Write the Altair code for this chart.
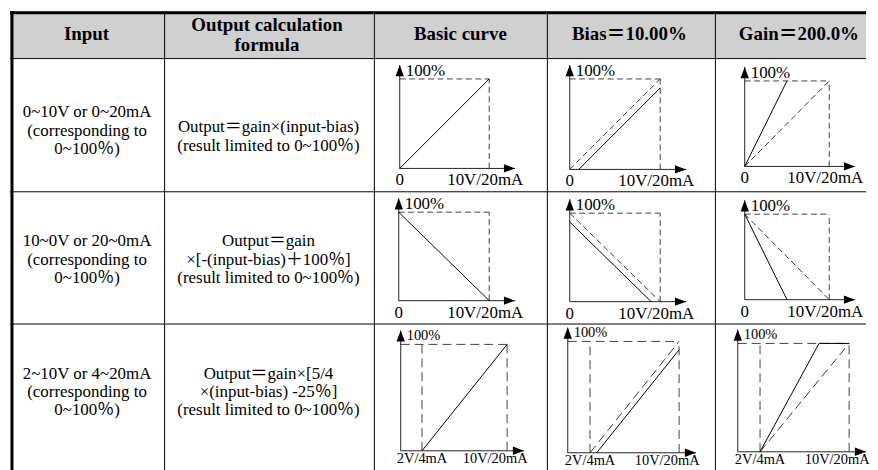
import altair as alt
import pandas as pd

# ---------------- table text ----------------
headers = ["Input", "Output calculation\nformula", "Basic curve", "Bias＝10.00%", "Gain＝200.0%"]
inputs = [
    "0~10V or 0~20mA\n(corresponding to\n0~100％)",
    "10~0V or 20~0mA\n(corresponding to\n0~100％)",
    "2~10V or 4~20mA\n(corresponding to\n0~100％)",
]
formulas = [
    "Output＝gain×(input-bias)\n(result limited to 0~100％)",
    "Output＝gain\n×[-(input-bias)＋100％]\n(result limited to 0~100％)",
    "Output＝gain×[5/4\n×(input-bias) -25％]\n(result limited to 0~100％)",
]

# ---------------- curve data (input in V, output in %) ----------------
basic_x = [[0, 10], [0, 10], [2, 10]]
basic_y = [[0, 100], [100, 0], [0, 100]]
bias_x = [[1, 10], [0, 9], [2.6, 10]]
bias_y = [[0, 90], [90, 0], [0, 92.5]]
gain_x = [[0, 5], [0, 5], [2, 7.3, 10]]
gain_y = [[0, 100], [100, 0], [0, 100, 100]]
zero_v = [0, 0, 2]
start_labels = ["0", "0", "2V/4mA"]
end_label = "10V/20mA"
top_label = "100%"
full_v = 10
full_pct = 100

# ---------------- layout ----------------
FONT = "'Liberation Serif', 'Noto Sans CJK SC', serif"
col_w = [155, 211, 174, 169, 152]
row_h = [47, 134, 133, 150]
# pixel frame of each small plot inside its cell: (x at 0V, x at 10V, y at 0%, y at 100%)
frames = [
    [(26, 116, 111, 21), (23, 114, 112, 21), (30, 115, 109, 23)],
    [(25, 116, 110, 21), (23, 114, 111, 22), (30, 115, 109, 23)],
    [(27, 134, 128, 21), (21, 133, 130, 18), (23, 135, 129, 20)],
]
header_cx = [77, 103.5, 87, 83, 84.5]
header_cy = [22.5, 13.5, 22.5, 22.5, 22.5]
text_cy_input = [54.5, 50.5, 50.5]
text_cy_formula = [69.5, 50.5, 50.5]
one = pd.DataFrame({"k": [0]})


def borders(w, h, r, c):
    out = []
    if c == 0:
        out.append(alt.Chart(one).mark_rule(color="black", strokeWidth=3).encode(
            x=alt.value(2), y=alt.value(0), y2=alt.value(h)))
    else:
        out.append(alt.Chart(one).mark_rule(color="black", strokeWidth=1).encode(
            x=alt.value(0.5), y=alt.value(0), y2=alt.value(h)))
    if r == 0:
        out.append(alt.Chart(one).mark_rule(color="black", strokeWidth=3).encode(
            y=alt.value(1.5), x=alt.value(0), x2=alt.value(w)))
    else:
        out.append(alt.Chart(one).mark_rule(color="black", strokeWidth=1).encode(
            y=alt.value(0.5), x=alt.value(0), x2=alt.value(w)))
    return out


def text_cell(txt, r, c, cx, cy, size, bold, lh, fill=None):
    w, h = col_w[c], row_h[r]
    df = pd.DataFrame({"t": [txt]})
    t = alt.Chart(df).mark_text(
        font=FONT, fontSize=size, fontWeight="bold" if bold else "normal",
        lineBreak="\n", lineHeight=lh, align="center", baseline="middle", color="black"
    ).encode(text="t:N", x=alt.value(cx), y=alt.value(cy))
    ch = alt.layer(t, *borders(w, h, r, c)).properties(width=w, height=h)
    if fill:
        ch = ch.properties(view=alt.ViewBackground(fill=fill, stroke=None))
    return ch


def mini(r, c, sx, sy, ref):
    x0, x10, y0, y100 = frames[r][c]
    w, h = col_w[c + 2], row_h[r + 1]
    kx = (x10 - x0) / full_v
    ky = (y0 - y100) / full_pct
    xsc = alt.Scale(domain=[-x0 / kx, (w - x0) / kx], nice=False, zero=False)
    ysc = alt.Scale(domain=[(y0 - h) / ky, y0 / ky], nice=False, zero=False)
    small = r == 2
    xend = full_v + (17 if small else 26) / kx
    yend = full_pct + 14 / ky
    z = zero_v[r]
    dash = [9, 5] if small else [6, 3.5]
    X = lambda f: alt.X(f, type="quantitative", scale=xsc, axis=None)
    Y = lambda f: alt.Y(f, type="quantitative", scale=ysc, axis=None)

    axes = pd.DataFrame({"x": [0, 0], "y": [0, 0], "x2": [xend, 0], "y2": [0, yend]})
    l_axes = alt.Chart(axes).mark_rule(color="#222", strokeWidth=1).encode(
        x=X("x"), x2="x2:Q", y=Y("y"), y2="y2:Q")

    gx, gy, gx2, gy2 = [0, full_v], [full_pct, 0], [full_v, full_v], [full_pct, full_pct]
    if z:
        gx.append(z); gy.append(0); gx2.append(z); gy2.append(full_pct)
    guides = pd.DataFrame({"x": gx, "y": gy, "x2": gx2, "y2": gy2})
    l_guides = alt.Chart(guides).mark_rule(color="#444", strokeWidth=1, strokeDash=dash).encode(
        x=X("x"), x2="x2:Q", y=Y("y"), y2="y2:Q")

    layers = [l_guides, l_axes]
    if ref is not None:
        rdf = pd.DataFrame({"x": ref[0], "y": ref[1], "i": list(range(len(ref[0])))})
        layers.append(alt.Chart(rdf).mark_line(color="#333", strokeWidth=1, strokeDash=dash).encode(
            x=X("x"), y=Y("y"), order="i:Q"))
    sdf = pd.DataFrame({"x": sx, "y": sy, "i": list(range(len(sx)))})
    layers.append(alt.Chart(sdf).mark_line(color="black", strokeWidth=1).encode(
        x=X("x"), y=Y("y"), order="i:Q"))

    layers.append(alt.Chart(pd.DataFrame({"x": [0], "y": [yend]})).mark_point(
        shape="M0,-1L0.6,0.6L-0.6,0.6Z", size=196, filled=True, color="black", opacity=1, yOffset=7
    ).encode(x=X("x"), y=Y("y")))
    layers.append(alt.Chart(pd.DataFrame({"x": [xend], "y": [0]})).mark_point(
        shape="M1,0L-0.6,-0.6L-0.6,0.6Z", size=196, filled=True, color="black", opacity=1, xOffset=-7
    ).encode(x=X("x"), y=Y("y")))

    fs = 14.5 if small else 17
    dy = 8 if small else 12
    layers.append(alt.Chart(pd.DataFrame({"x": [z], "y": [0], "t": [start_labels[r]]})).mark_text(
        font=FONT, fontSize=fs, align="center", baseline="middle", dy=dy, color="black"
    ).encode(x=X("x"), y=Y("y"), text="t:N"))
    layers.append(alt.Chart(pd.DataFrame({"x": [full_v], "y": [0], "t": [end_label]})).mark_text(
        font=FONT, fontSize=fs, align="center", baseline="middle", dy=dy, dx=-12 if small else -4, color="black"
    ).encode(x=X("x"), y=Y("y"), text="t:N"))
    layers.append(alt.Chart(pd.DataFrame({"x": [0], "y": [full_pct], "t": [top_label]})).mark_text(
        font=FONT, fontSize=fs, align="left", baseline="middle", dx=6, dy=-8, color="black"
    ).encode(x=X("x"), y=Y("y"), text="t:N"))
    layers += borders(w, h, r + 1, c + 2)
    return alt.layer(*layers).properties(width=w, height=h)


cells = [
    text_cell(headers[i], 0, i, header_cx[i], header_cy[i], 19, True, 20, fill="#d0d0d0")
    for i in range(5)
]
for r in range(3):
    cells += [
        text_cell(inputs[r], r + 1, 0, 77.5, text_cy_input[r], 17, False, 18.5),
        text_cell(formulas[r], r + 1, 1, 105, text_cy_formula[r], 17, False, 18.5),
        mini(r, 0, basic_x[r], basic_y[r], None),
        mini(r, 1, bias_x[r], bias_y[r], (basic_x[r], basic_y[r])),
        mini(r, 2, gain_x[r], gain_y[r], (basic_x[r], basic_y[r])),
    ]

chart = alt.concat(*cells, columns=5, spacing=0, bounds="flush", align="each").properties(
    padding=0, background="white"
).configure_view(stroke=None).configure_concat(spacing=0)

chart.save("out.html", embed_options={"renderer": "svg", "actions": False})
